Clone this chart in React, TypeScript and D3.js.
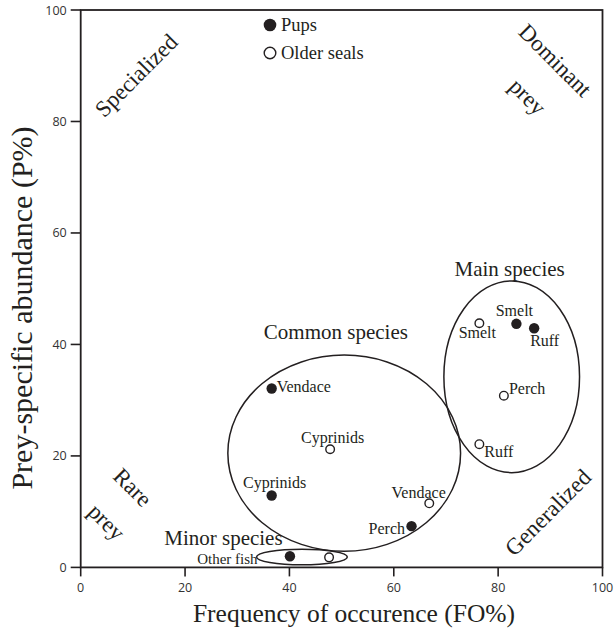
import * as d3 from 'd3'

// FO% and P%
const pupNames = ['Vendace', 'Cyprinids', 'Perch', 'Smelt', 'Ruff', 'Other fish']
const pupFO = [36.6, 36.6, 63.4, 83.5, 86.9, 40.1]
const pupP = [32.1, 12.9, 7.4, 43.7, 42.9, 2.0]

const olderNames = ['Cyprinids', 'Vendace', 'Smelt', 'Perch', 'Ruff', 'Other fish']
const olderFO = [47.8, 66.8, 76.4, 81.1, 76.4, 47.6]
const olderP = [21.2, 11.5, 43.8, 30.8, 22.1, 1.8]

// species groups (ellipses in data units)
const groupNames = ['Common species', 'Main species', 'Minor species']
const groupCX = [50.5, 82.6, 42.4]
const groupCY = [20.5, 34.2, 1.87]
const groupRX = [22.3, 13.0, 8.7]
const groupRY = [17.6, 17.2, 1.4]

const xTicks = [0, 20, 40, 60, 80, 100]
const yTicks = [0, 20, 40, 60, 80, 100]

const W = 615
const H = 632
const SERIF = '"Liberation Serif", "Times New Roman", serif'
const SANS = '"Open Sans", "Noto Sans", sans-serif'
const INK = '#231f20'

// label placement: [dx, dy, anchor]
const pupLabelPos: Record<string, [number, number, string]> = {
  Vendace: [5, 3.5, 'start'],
  Cyprinids: [3, -7, 'middle'],
  Perch: [-6.5, 8, 'end'],
  Smelt: [-2, -8, 'middle'],
  Ruff: [-4, 18, 'start']
}
const olderLabelPos: Record<string, [number, number, string]> = {
  Cyprinids: [2.5, -6.6, 'middle'],
  Vendace: [-10.6, -5.6, 'middle'],
  Smelt: [-2, 14.7, 'middle'],
  Perch: [5, -1.7, 'start'],
  Ruff: [5, 12.4, 'start']
}

// group titles: data position of anchor point
const groupTitlePos: [number, number, string][] = [
  [48.9, 40.9, 'middle'],
  [82.2, 52.2, 'middle'],
  [38.7, 4.0, 'end']
]

// quadrant annotations (data coords of centre, rotation)
const cornerText = ['Specialized', 'Dominant', 'prey', 'Rare', 'prey', 'Generalized']
const cornerX = [10.6, 91.0, 85.7, 10.0, 5.0, 89.5]
const cornerY = [88.3, 91.0, 84.5, 14.4, 8.2, 9.9]
const cornerRot = [-45, 45, 45, 45, 45, -45]

export default function App() {
  const x = d3.scaleLinear().domain([0, 100]).range([80.7, 602.5])
  const y = d3.scaleLinear().domain([0, 100]).range([567.4, 10])
  const [x0, x1] = x.range()
  const [y0, y1] = y.range()

  return (
    <svg
      width={W}
      height={H}
      style={{ position: 'absolute', left: 0, top: 0, background: '#fff' }}
    >
      {/* frame */}
      <rect x={x0} y={y1} width={x1 - x0} height={y0 - y1} fill="none" stroke={INK} strokeWidth={1.8} />

      {/* y ticks */}
      {yTicks.map(t => (
        <g key={'y' + t}>
          <line x1={x0 - 10} x2={x0} y1={y(t)} y2={y(t)} stroke={INK} strokeWidth={1.6} />
          <text x={x0 - 14} y={y(t)} dy="0.36em" textAnchor="end" fontFamily={SANS} fontSize={12.5} fill="#333">
            {t}
          </text>
        </g>
      ))}

      {/* x ticks */}
      {xTicks.map(t => (
        <g key={'x' + t}>
          <line x1={x(t)} x2={x(t)} y1={y0} y2={y0 + 9} stroke={INK} strokeWidth={1.6} />
          <text x={x(t)} y={y0 + 25} textAnchor="middle" fontFamily={SANS} fontSize={12.5} fill="#333">
            {t}
          </text>
        </g>
      ))}

      {/* axis titles */}
      <text x={354} y={622} textAnchor="middle" fontFamily={SERIF} fontSize={25.5} fill={INK}>
        Frequency of occurence (FO%)
      </text>
      <text
        transform={`translate(32, ${308}) rotate(-90)`}
        textAnchor="middle"
        fontFamily={SERIF}
        fontSize={30}
        fill={INK}
      >
        Prey-specific abundance (P%)
      </text>

      {/* group ellipses */}
      {groupNames.map((g, i) => (
        <ellipse
          key={g}
          cx={x(groupCX[i])}
          cy={y(groupCY[i])}
          rx={x(groupCX[i] + groupRX[i]) - x(groupCX[i])}
          ry={y(groupCY[i]) - y(groupCY[i] + groupRY[i])}
          fill="none"
          stroke={INK}
          strokeWidth={1.5}
        />
      ))}
      {groupNames.map((g, i) => (
        <text
          key={'t' + g}
          x={x(groupTitlePos[i][0])}
          y={y(groupTitlePos[i][1])}
          textAnchor={groupTitlePos[i][2]}
          fontFamily={SERIF}
          fontSize={21}
          fill={INK}
        >
          {g}
        </text>
      ))}
      <text
        x={x(groupCX[2] - groupRX[2]) + 1}
        y={y(0.6)}
        textAnchor="end"
        fontFamily={SERIF}
        fontSize={15}
        fill={INK}
      >
        Other fish
      </text>

      {/* pups */}
      {pupNames.map((n, i) => (
        <g key={'p' + n}>
          <circle cx={x(pupFO[i])} cy={y(pupP[i])} r={5.2} fill={INK} />
          {pupLabelPos[n] && (
            <text
              x={x(pupFO[i]) + pupLabelPos[n][0]}
              y={y(pupP[i]) + pupLabelPos[n][1]}
              textAnchor={pupLabelPos[n][2]}
              fontFamily={SERIF}
              fontSize={16}
              fill={INK}
            >
              {n}
            </text>
          )}
        </g>
      ))}

      {/* older seals */}
      {olderNames.map((n, i) => (
        <g key={'o' + n}>
          <circle cx={x(olderFO[i])} cy={y(olderP[i])} r={4.3} fill="#fff" stroke={INK} strokeWidth={1.4} />
          {olderLabelPos[n] && (
            <text
              x={x(olderFO[i]) + olderLabelPos[n][0]}
              y={y(olderP[i]) + olderLabelPos[n][1]}
              textAnchor={olderLabelPos[n][2]}
              fontFamily={SERIF}
              fontSize={16}
              fill={INK}
            >
              {n}
            </text>
          )}
        </g>
      ))}

      {/* quadrant annotations */}
      {cornerText.map((c, i) => (
        <text
          key={'c' + i}
          transform={`translate(${x(cornerX[i])}, ${y(cornerY[i])}) rotate(${cornerRot[i]})`}
          textAnchor="middle"
          dy="0.35em"
          fontFamily={SERIF}
          fontSize={23}
          fill={INK}
        >
          {c}
        </text>
      ))}

      {/* legend */}
      <circle cx={270} cy={25} r={6.3} fill={INK} />
      <text x={281} y={31} fontFamily={SERIF} fontSize={18.5} fill={INK}>Pups</text>
      <circle cx={270} cy={53} r={5.8} fill="#fff" stroke={INK} strokeWidth={1.4} />
      <text x={281} y={59} fontFamily={SERIF} fontSize={18.5} fill={INK}>Older seals</text>
    </svg>
  )
}
